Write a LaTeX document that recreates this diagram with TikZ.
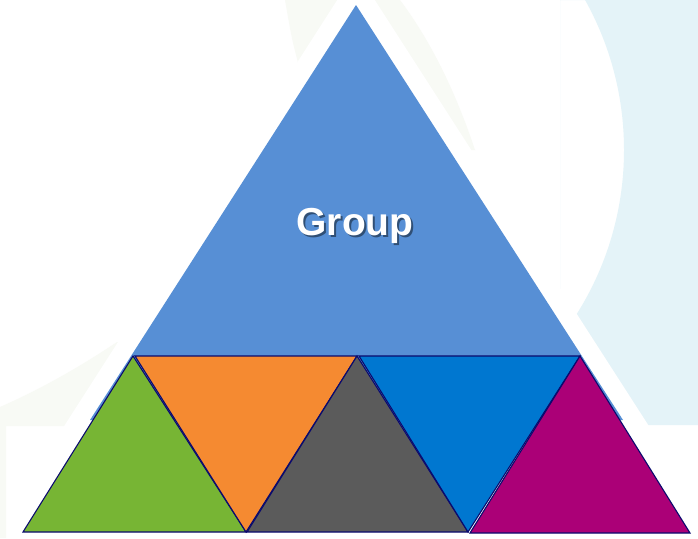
\documentclass[tikz,border=0pt]{standalone}
\usepackage{fontspec}
\setmainfont{Liberation Sans}
\definecolor{bigblue}{HTML}{578FD5}
\definecolor{tgreen}{HTML}{77B534}
\definecolor{torange}{HTML}{F58A31}
\definecolor{tgray}{HTML}{5B5B5B}
\definecolor{tblue}{HTML}{0077D0}
\definecolor{tmagenta}{HTML}{AB0077}
\definecolor{tnavy}{HTML}{0A0A6E}
\definecolor{bgcyan}{HTML}{E4F3F8}
\definecolor{bgfaint}{HTML}{F8FAF5}
\colorlet{shadowblue}{bigblue!55!black}
\newcommand{\shadowtext}[1]{\rlap{\hspace{2pt}\raisebox{-2.5pt}{\textcolor{shadowblue}{#1}}}#1}
\tikzset{
  smalltri/.style={draw=tnavy, line width=1.1pt, line join=miter},
  band/.style={draw=white, line width=37pt, line join=miter},
  grouptext/.style={font=\bfseries\fontsize{39}{41}\selectfont, inner sep=0pt, anchor=base}
}
\begin{document}
\begin{tikzpicture}[x=1pt,y=-1pt]
\useasboundingbox (0,0) rectangle (698,538);
% background
\fill[white] (0,0) rectangle (698,538);
\begin{scope}
  \clip (560,0) rectangle (698,425);
  \fill[bgcyan, even odd rule] (560,0) rectangle (698,425) (316,150) circle[radius=308];
\end{scope}
\fill[bgfaint] (285,0) -- (400,0) .. controls (430,40) and (455,90) .. (475,150) -- (356,150) -- (300,70) .. controls (292,40) .. (285,0) -- cycle;
\fill[bgfaint] (0,407) .. controls (50,385) and (90,360) .. (117,342) -- (150,342) -- (100,426) -- (6,426) -- (6,538) -- (0,538) -- cycle;
% white band and big triangle
\coordinate (A) at (356,5);
\coordinate (B) at (90,420);
\coordinate (C) at (623,420);
\draw[band] (A) -- (B) -- (C) -- cycle;
\fill[bigblue] (A) -- (B) -- (C) -- cycle;
% small triangles
\coordinate (t1) at (133,356);
\coordinate (t2) at (357,356);
\coordinate (t3) at (580,356);
\coordinate (b0) at (23,532);
\coordinate (b1) at (246,532);
\coordinate (b2) at (468,532);
\coordinate (b3) at (690,533);
\draw[smalltri, fill=tgreen] (t1) -- (b0) -- (b1) -- cycle;
\draw[smalltri, fill=torange] (135,356) -- (t2) -- (b1) -- cycle;
\draw[smalltri, fill=tgray] (t2) -- (247,532) -- (b2) -- cycle;
\draw[smalltri, fill=tblue] (359,356) -- (t3) -- (b2) -- cycle;
\draw[smalltri, fill=tmagenta] (t3) -- (470,533) -- (b3) -- cycle;
% label
\node[grouptext, text=white] (group) at (355,235) {\shadowtext{Group}};
\end{tikzpicture}
\end{document}
